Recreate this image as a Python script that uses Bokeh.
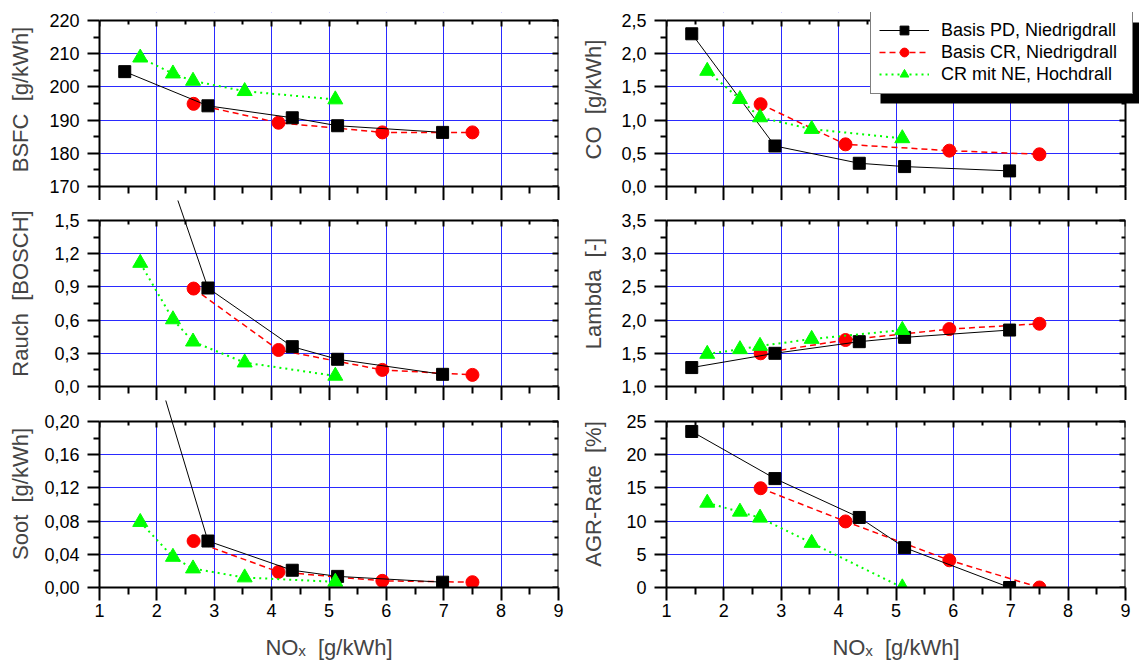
from bokeh.plotting import figure
from bokeh.models import (Range1d, FixedTicker, LinearAxis, CustomJSTickFormatter,
                          BoxAnnotation, Legend, LegendItem)
from bokeh.layouts import row, column
from bokeh.embed import file_html
from bokeh.resources import INLINE

FONT = "Liberation Sans"
NB = "\u00a0"

# ---------------- data ----------------
series_names = ["Basis PD, Niedrigdrall", "Basis CR, Niedrigdrall", "CR mit NE, Hochdrall"]

pd_nox = [1.44, 2.89, 4.36, 5.15, 6.98]
cr_nox = [2.64, 4.12, 5.93, 7.50]
ne_nox = [1.71, 2.28, 2.63, 3.53, 5.11]

pd_bsfc = [204.6, 194.3, 190.7, 188.3, 186.3]
cr_bsfc = [194.9, 189.2, 186.3, 186.3]
ne_bsfc = [208.8, 204.0, 201.8, 198.7, 196.2]

pd_co = [2.30, 0.61, 0.35, 0.30, 0.235]
cr_co = [1.24, 0.635, 0.54, 0.485]
ne_co = [1.74, 1.315, 1.04, 0.865, 0.725]

pd_rauch = [3.08, 0.89, 0.36, 0.246, 0.11]
cr_rauch = [0.885, 0.33, 0.15, 0.105]
ne_rauch = [1.116, 0.606, 0.405, 0.216, 0.096]

pd_lambda = [1.285, 1.50, 1.675, 1.74, 1.85]
cr_lambda = [1.50, 1.70, 1.865, 1.945]
ne_lambda = [1.49, 1.56, 1.61, 1.715, 1.85]

pd_soot = [0.39, 0.056, 0.0208, 0.0134, 0.0064]
cr_soot = [0.056, 0.0188, 0.008, 0.0064]
ne_soot = [0.0788, 0.0368, 0.0228, 0.012, 0.0068]

pd_agr = [23.5, 16.4, 10.55, 6.0, 0.0]
cr_agr = [14.95, 9.95, 4.1, 0.0]
ne_agr = [12.75, 11.4, 10.5, 6.7, 0.0]

nox_ticks = [1, 2, 3, 4, 5, 6, 7, 8, 9]
bsfc_ticks = [170, 180, 190, 200, 210, 220]
rauch_ticks = [0.0, 0.3, 0.6, 0.9, 1.2, 1.5]
soot_ticks = [0.0, 0.04, 0.08, 0.12, 0.16, 0.20]
co_ticks = [0.0, 0.5, 1.0, 1.5, 2.0, 2.5]
lambda_ticks = [1.0, 1.5, 2.0, 2.5, 3.0, 3.5]
agr_ticks = [0, 5, 10, 15, 20, 25]

x_label = "NO\u2093" + NB + NB + "[g/kWh]"

# ---------------- layout constants ----------------
W = 459
H = 166
EXT = [8, 20, 21]          # frame extension above the panel top (px)
TOPB = [20, 20, 21]        # distance from figure top to panel top (px)
BOTB = [14, 14, 79]
LEFTB = [99, 100]
RIGHTB = [8, 14]
XMAX = nox_ticks[-1]

STYLES = [
    dict(color="#ff0000", dash="6 4", lw=1.5, marker="circle", size=13),
    dict(color="#000000", dash="solid", lw=1, marker="square", size=12),
    dict(color="#00ff00", dash="2 4", lw=2, marker="triangle", size=15),
]


def minor_of(t):
    return [(a + b) / 2 for a, b in zip(t[:-1], t[1:])]


def fmt(dec):
    return CustomJSTickFormatter(args=dict(d=dec),
                                 code="return tick.toFixed(d).replace('.', ',');")


def blank():
    return CustomJSTickFormatter(code="return '';")


def style(ax, ticker, mode, dec=None):
    ax.ticker = ticker
    ax.axis_line_width = 2
    ax.axis_line_color = "black"
    ax.major_tick_line_width = 2
    ax.minor_tick_line_width = 2
    ax.major_tick_line_color = "black"
    ax.minor_tick_line_color = "black"
    if mode == "in":
        ax.major_tick_in, ax.major_tick_out = 6, 0
        ax.minor_tick_in, ax.minor_tick_out = 4, 0
    else:
        ax.major_tick_in, ax.major_tick_out = 0, mode[0]
        ax.minor_tick_in, ax.minor_tick_out = 0, mode[1]
    if dec is not None:
        ax.formatter = fmt(dec)
        ax.major_label_text_font = FONT
        ax.major_label_text_font_size = "18px"
        ax.major_label_text_color = "black"
    else:
        ax.formatter = blank()
        ax.major_label_text_font_size = "0px"
        ax.major_label_standoff = 0


def make_panel(col, rw, ys_list, yticks, dec, ylabel, lab_standoff, ext_right=0):
    ylo, yhi = yticks[0], yticks[-1]
    ppu_y = H / (yhi - ylo)
    ppu_x = W / (XMAX - nox_ticks[0])
    ext = EXT[rw]
    p = figure(frame_width=W + ext_right, frame_height=H + ext,
               x_range=Range1d(nox_ticks[0], XMAX + ext_right / ppu_x),
               y_range=Range1d(ylo, yhi + ext / ppu_y),
               output_backend="svg", toolbar_location=None,
               min_border_left=LEFTB[col], min_border_right=RIGHTB[col] - ext_right,
               min_border_top=TOPB[rw] - ext, min_border_bottom=BOTB[rw],
               background_fill_color="white", border_fill_color="white",
               outline_line_color=None)
    xt = FixedTicker(ticks=nox_ticks, minor_ticks=minor_of(nox_ticks))
    yt = FixedTicker(ticks=yticks, minor_ticks=minor_of(yticks))

    xa = p.xaxis[0]
    ya = p.yaxis[0]
    if rw == 2:
        style(xa, xt, (13, 7), 0)
        xa.major_label_standoff = 3
        xa.axis_label = x_label
        xa.axis_label_text_font = FONT
        xa.axis_label_text_font_size = "22px"
        xa.axis_label_text_font_style = "normal"
        xa.axis_label_standoff = 15
    else:
        style(xa, xt, (14, 7))
    xa.bounds = (nox_ticks[0], XMAX)

    style(ya, yt, (12, 6), dec)
    ya.major_label_standoff = 8
    ya.axis_label = ylabel
    ya.axis_label_text_font = FONT
    ya.axis_label_text_font_size = "22px"
    ya.axis_label_text_font_style = "normal"
    ya.axis_label_standoff = lab_standoff
    ya.bounds = (ylo, yhi)

    ra = LinearAxis(fixed_location=XMAX, bounds=(ylo, yhi))
    style(ra, yt, "in")
    p.add_layout(ra, "right")

    ta = LinearAxis(fixed_location=yhi, bounds=(nox_ticks[0], XMAX))
    style(ta, xt, "in")
    p.add_layout(ta, "above")

    p.xgrid.ticker = xt
    p.ygrid.ticker = yt
    for g in (p.xgrid[0], p.ygrid[0]):
        g.grid_line_color = "#2a2aff"
        g.grid_line_width = 1

    # blank out grid lines in the space outside the panel box
    p.add_layout(BoxAnnotation(bottom=yhi, fill_color="white", fill_alpha=1,
                               line_alpha=0, level="underlay"))
    if ext_right:
        p.add_layout(BoxAnnotation(left=XMAX, fill_color="white", fill_alpha=1,
                                   line_alpha=0, level="underlay"))

    rends = []
    for xs, ys, st in zip([cr_nox, pd_nox, ne_nox], ys_list, STYLES):
        l = p.line(xs, ys, line_color=st["color"], line_width=st["lw"], line_dash=st["dash"])
        s = p.scatter(xs, ys, marker=st["marker"], size=st["size"],
                      fill_color=st["color"], line_color=st["color"], line_width=1)
        rends.append((l, s))
    return p, rends


p_bsfc, _ = make_panel(0, 0, [cr_bsfc, pd_bsfc, ne_bsfc], bsfc_ticks, 0,
                       "BSFC" + NB + NB + "[g/kWh]", 13)
p_rauch, _ = make_panel(0, 1, [cr_rauch, pd_rauch, ne_rauch], rauch_ticks, 1,
                        "Rauch" + NB + NB + "[BOSCH]", 18)
p_soot, _ = make_panel(0, 2, [cr_soot, pd_soot, ne_soot], soot_ticks, 2,
                       "Soot" + NB + NB + "[g/kWh]", 8)
p_co, co_r = make_panel(1, 0, [cr_co, pd_co, ne_co], co_ticks, 1,
                        "CO" + NB + NB + "[g/kWh]", 12, ext_right=14)
p_lambda, _ = make_panel(1, 1, [cr_lambda, pd_lambda, ne_lambda], lambda_ticks, 1,
                         "Lambda" + NB + NB + "[-]", 12)
p_agr, _ = make_panel(1, 2, [cr_agr, pd_agr, ne_agr], agr_ticks, 0,
                      "AGR-Rate" + NB + NB + "[%]", 17)

# ---------------- legend with shadow in CO panel ----------------
co_ppu_x = W / (XMAX - nox_ticks[0])
co_ppu_y = H / (co_ticks[-1] - co_ticks[0])


def px_x(px):
    return nox_ticks[0] + px / co_ppu_x


def px_y(px):
    return co_ticks[0] + px / co_ppu_y


shadow = BoxAnnotation(left=px_x(214), right=px_x(473), top=px_y(164), bottom=px_y(83),
                       fill_color="black", fill_alpha=1, line_alpha=0)
p_co.add_layout(shadow)

order = [1, 0, 2]
items = [LegendItem(label=series_names[i], renderers=list(co_r[j])) for i, j in enumerate(order)]
legend = Legend(items=items, location=(204, 92),
                border_line_color="black", border_line_width=1.5,
                background_fill_color="white", background_fill_alpha=1,
                label_text_font=FONT, label_text_font_size="18px", label_text_color="black",
                glyph_width=50, glyph_height=22, label_height=22, spacing=0,
                padding=8, label_standoff=12, label_width=183, margin=0)
p_co.add_layout(legend)

layout = row(column(p_bsfc, p_rauch, p_soot), column(p_co, p_lambda, p_agr))

open("out.html", "w").write(file_html(layout, INLINE))
